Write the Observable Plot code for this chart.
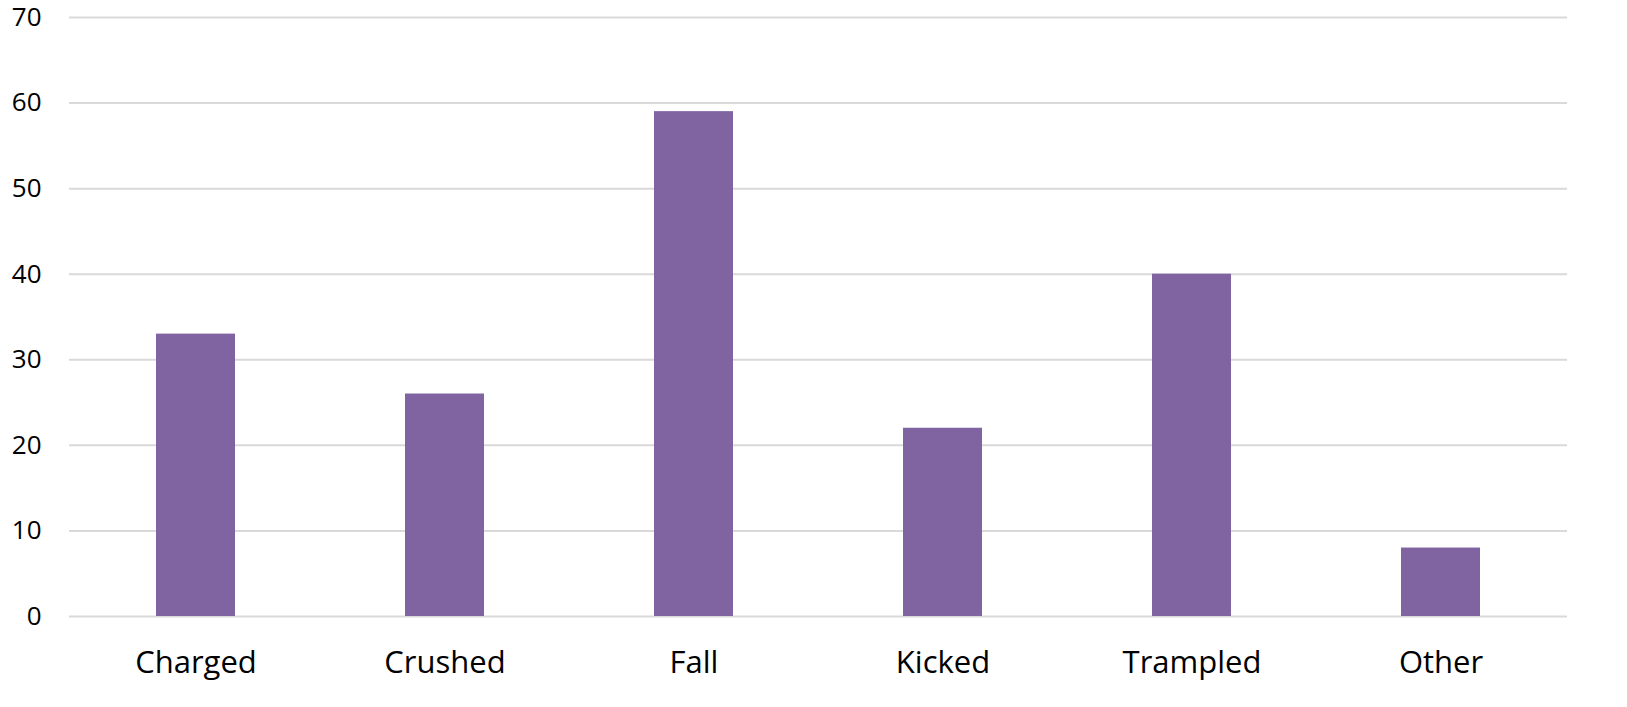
<!DOCTYPE html>
<html>
<head>
<meta charset="utf-8">
<script src="https://cdn.jsdelivr.net/npm/d3@7"></script>
<script src="https://cdn.jsdelivr.net/npm/@observablehq/plot@0.6"></script>
<style>
  html, body { margin: 0; padding: 0; background: #fff; overflow: hidden; }
  #chart svg { display: block; max-width: none !important; width: 1627px !important; height: 707px !important; }
</style>
</head>
<body>
<div id="chart"></div>
<script>
const categories = ["Charged", "Crushed", "Fall", "Kicked", "Trampled", "Other"];
const values = [33, 26, 59, 22, 40, 8];
const yTicks = [0, 10, 20, 30, 40, 50, 60, 70];

const data = categories.map((c, i) => ({category: c, value: values[i]}));

const chart = Plot.plot({
  width: 1627,
  height: 707,
  marginLeft: 69,
  marginRight: 60,
  marginTop: 17,
  marginBottom: 91,
  style: {fontFamily: "'Open Sans', sans-serif", color: "#000", background: "#fff"},
  x: {domain: categories, paddingInner: 0.684, paddingOuter: 0.342, label: null},
  y: {domain: [0, 70], label: null},
  marks: [
    Plot.ruleY(yTicks, {stroke: "#d9d9d9", strokeWidth: 2}),
    Plot.barY(data, {x: "category", y: "value", fill: "#8064a2"}),
    Plot.axisY(yTicks, {tickSize: 0, tickPadding: 28, fontSize: 26, label: null}),
    Plot.axisX({tickSize: 0, tickPadding: 34, fontSize: 31, label: null})
  ]
});
document.getElementById("chart").appendChild(chart);
</script>
</body>
</html>
